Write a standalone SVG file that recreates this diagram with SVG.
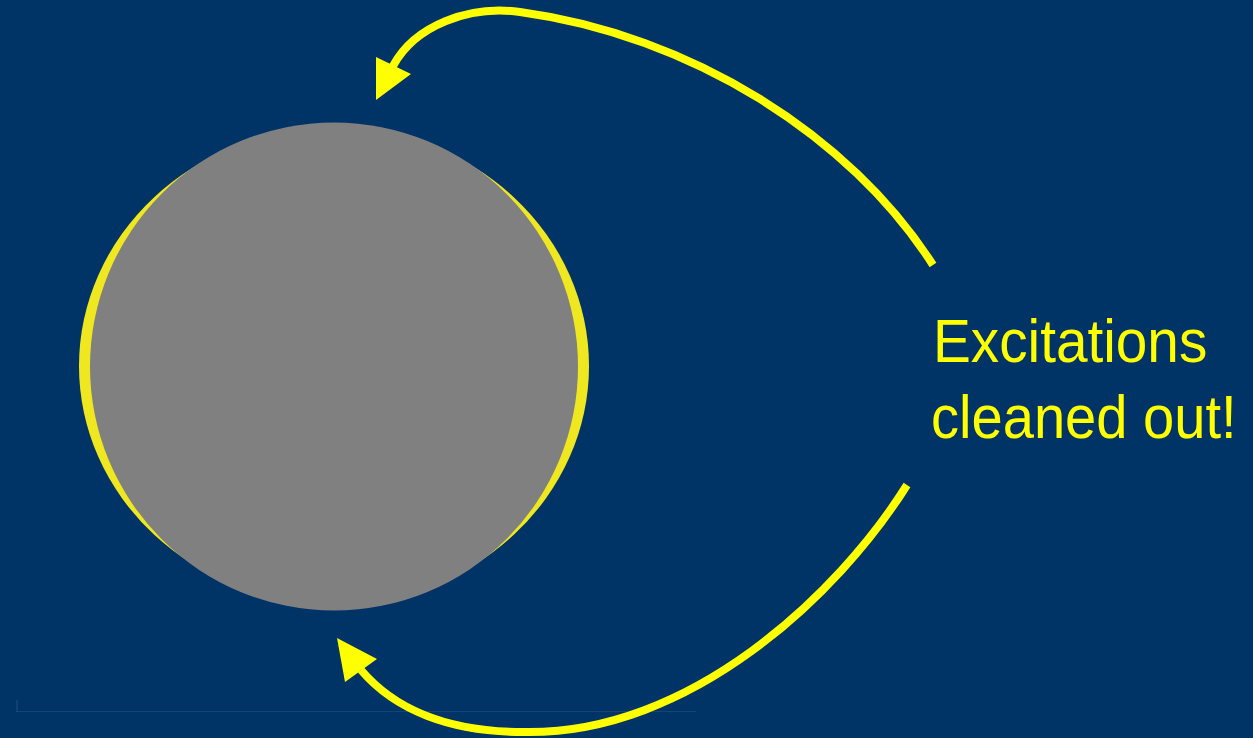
<svg xmlns="http://www.w3.org/2000/svg" width="1253" height="738" viewBox="0 0 1253 738">
<style>
.arrow{fill:none;stroke:#FFFF00;stroke-width:8;stroke-linecap:butt}
.head{fill:#FFFF00}
.label{fill:#FFFF00;font-family:"Liberation Sans",Arial,sans-serif;font-size:62px}
</style>
<rect x="0" y="0" width="1253" height="738" fill="#003366"/>
<g id="baseline-mark">
<line x1="16" y1="711.5" x2="696" y2="711.5" stroke="#174474" stroke-width="1"/>
<line x1="17" y1="700" x2="17" y2="712" stroke="#244f80" stroke-width="1"/>
</g>
<g id="sphere">
<ellipse cx="334" cy="366" rx="255" ry="238" fill="#EFE71F"/>
<circle cx="334" cy="366.5" r="244" fill="#808080"/>
</g>
<g id="connectors">
<path class="arrow" d="M933,265 C850,135 690,35 520,12 C470,5 415,25 393,66"/>
<polygon class="head" points="376,100 376,57 411,74"/>
<path class="arrow" d="M907,485 C838,595 690,735 524,732 C450,732 395,710 361,670"/>
<polygon class="head" points="337,638 345,682 377,659"/>
</g>
<g id="label">
<text class="label" transform="translate(933,362) scale(0.915,1)">Excitations</text>
<text class="label" transform="translate(931,438) scale(0.905,1)">cleaned out!</text>
</g>
</svg>
